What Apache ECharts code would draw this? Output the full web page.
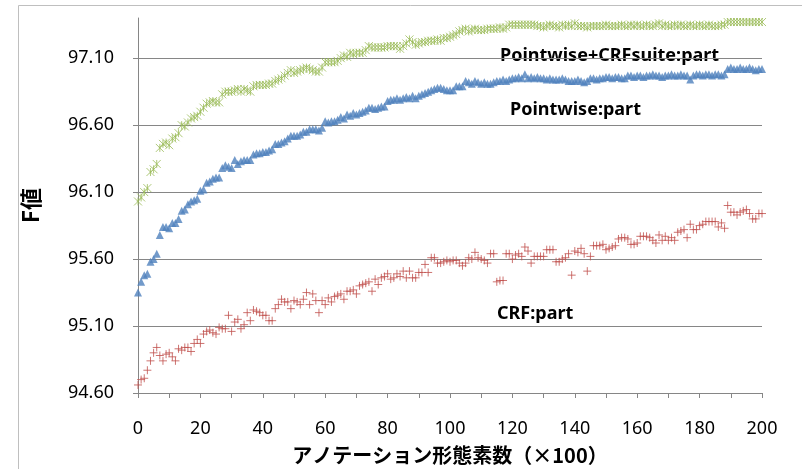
<!DOCTYPE html>
<html>
<head>
<meta charset="utf-8">
<script src="https://cdn.jsdelivr.net/npm/echarts@6/dist/echarts.min.js"></script>
<style>html,body{margin:0;padding:0;background:#fff}#c{width:802px;height:469px}</style>
</head>
<body>
<div id="c"></div>
<script>
// x positions: annotated morphemes (x100), one point per step 0..200
const xSteps = Array.from({length: 201}, (_, i) => i);
const yTicks = ['94.60','95.10','95.60','96.10','96.60','97.10'];
const xTickLabels = ['0','20','40','60','80','100','120','140','160','180','200'];
const seriesNames = ['Pointwise+CRFsuite:part','Pointwise:part','CRF:part'];

const crfPart = [
94.66,94.70,94.71,94.77,94.84,94.90,94.94,94.88,94.84,94.89,
94.90,94.87,94.84,94.93,94.92,94.94,94.94,94.91,94.97,95.00,
94.97,95.04,95.06,95.07,95.05,95.04,95.09,95.08,95.08,95.18,
95.06,95.13,95.15,95.08,95.11,95.20,95.14,95.22,95.21,95.20,
95.18,95.18,95.14,95.14,95.23,95.26,95.30,95.28,95.28,95.23,
95.29,95.28,95.26,95.30,95.35,95.26,95.34,95.29,95.20,95.29,
95.26,95.31,95.28,95.32,95.33,95.34,95.30,95.36,95.36,95.37,
95.34,95.40,95.41,95.42,95.43,95.36,95.45,95.41,95.46,95.47,
95.49,95.45,95.46,95.49,95.47,95.51,95.46,95.51,95.46,95.46,
95.50,95.50,95.56,95.50,95.61,95.61,95.57,95.57,95.58,95.59,
95.58,95.59,95.59,95.57,95.55,95.57,95.61,95.60,95.65,95.61,
95.60,95.59,95.57,95.64,95.64,95.43,95.44,95.44,95.64,95.64,
95.60,95.63,95.64,95.62,95.69,95.66,95.57,95.62,95.62,95.62,
95.62,95.67,95.67,95.67,95.58,95.58,95.60,95.61,95.64,95.48,
95.66,95.65,95.68,95.64,95.51,95.62,95.70,95.70,95.70,95.71,
95.67,95.68,95.69,95.70,95.75,95.76,95.76,95.75,95.71,95.71,
95.72,95.77,95.77,95.77,95.76,95.74,95.72,95.78,95.74,95.77,
95.74,95.76,95.74,95.80,95.81,95.82,95.76,95.86,95.82,95.82,
95.85,95.86,95.88,95.88,95.88,95.88,95.84,95.87,95.83,96.00,
95.95,95.95,95.93,95.95,95.96,95.97,95.94,95.90,95.90,95.94,
95.94];

const pointwisePart = [
95.35,95.43,95.48,95.49,95.58,95.60,95.64,95.78,95.84,95.84,
95.83,95.87,95.87,95.90,95.96,95.97,96.01,96.03,96.04,96.05,
96.11,96.12,96.17,96.18,96.20,96.21,96.21,96.28,96.30,96.29,
96.28,96.34,96.31,96.33,96.34,96.34,96.34,96.38,96.39,96.39,
96.40,96.40,96.41,96.42,96.46,96.46,96.47,96.48,96.50,96.52,
96.52,96.52,96.53,96.55,96.55,96.57,96.57,96.57,96.56,96.58,
96.63,96.62,96.63,96.63,96.64,96.66,96.65,96.68,96.67,96.69,
96.68,96.69,96.70,96.71,96.73,96.73,96.72,96.73,96.74,96.74,
96.78,96.79,96.79,96.80,96.79,96.80,96.81,96.80,96.82,96.80,
96.82,96.83,96.84,96.85,96.86,96.87,96.88,96.88,96.87,96.86,
96.86,96.86,96.89,96.89,96.89,96.93,96.92,96.91,96.93,96.92,
96.91,96.92,96.91,96.91,96.92,96.93,96.93,96.94,96.93,96.94,
96.95,96.95,96.96,96.95,96.98,96.95,96.96,96.95,96.96,96.95,
96.95,96.94,96.95,96.94,96.94,96.94,96.95,96.94,96.93,96.93,
96.93,96.94,96.93,96.92,96.93,96.95,96.95,96.94,96.95,96.95,
96.96,96.96,96.95,96.96,96.96,96.95,96.95,96.97,96.97,96.96,
96.97,96.97,96.96,96.97,96.97,96.98,96.97,96.97,96.96,96.97,
96.97,96.98,96.97,96.97,96.98,96.97,96.97,96.94,96.97,96.98,
96.98,96.97,96.98,96.98,96.97,96.98,96.98,96.97,96.98,97.02,
97.03,97.02,97.02,97.03,97.02,97.02,97.03,97.02,97.01,97.02,
97.02];

const pointwiseCrfsuitePart = [
96.03,96.06,96.10,96.13,96.25,96.27,96.31,96.43,96.46,96.47,
96.45,96.50,96.51,96.54,96.60,96.59,96.62,96.65,96.66,96.67,
96.70,96.73,96.76,96.77,96.78,96.77,96.77,96.83,96.85,96.85,
96.85,96.86,96.87,96.85,96.87,96.86,96.85,96.89,96.90,96.90,
96.90,96.90,96.91,96.91,96.93,96.94,96.95,96.97,96.99,97.01,
96.99,97.00,97.01,97.02,97.03,97.02,97.01,97.00,97.00,97.03,
97.07,97.07,97.07,97.07,97.08,97.10,97.12,97.11,97.14,97.13,
97.14,97.14,97.14,97.16,97.19,97.18,97.18,97.18,97.18,97.18,
97.19,97.19,97.19,97.19,97.17,97.19,97.21,97.24,97.22,97.20,
97.21,97.22,97.22,97.23,97.23,97.23,97.24,97.23,97.25,97.25,
97.26,97.27,97.28,97.30,97.31,97.32,97.30,97.31,97.32,97.31,
97.31,97.31,97.32,97.32,97.32,97.32,97.33,97.32,97.33,97.35,
97.35,97.35,97.35,97.35,97.35,97.35,97.35,97.35,97.34,97.34,
97.33,97.34,97.35,97.34,97.34,97.33,97.35,97.34,97.35,97.34,
97.36,97.34,97.34,97.34,97.33,97.34,97.34,97.34,97.34,97.34,
97.35,97.34,97.34,97.34,97.34,97.35,97.34,97.34,97.35,97.34,
97.35,97.34,97.34,97.35,97.34,97.34,97.35,97.36,97.34,97.35,
97.34,97.34,97.35,97.34,97.35,97.34,97.34,97.35,97.34,97.34,
97.35,97.34,97.34,97.35,97.34,97.34,97.34,97.35,97.35,97.37,
97.37,97.37,97.37,97.37,97.37,97.37,97.37,97.37,97.37,97.37,
97.37];

const pairs = arr => arr.map((v, i) => [xSteps[i], v]);
const chart = echarts.init(document.getElementById('c'), null, {renderer: 'canvas'});
const axisGray = '#868686';
const labelFont = '"Noto Sans", "Liberation Sans", sans-serif';
const annFont = 'bold 18px "Noto Sans", sans-serif';

chart.setOption({
  animation: false,
  backgroundColor: '#fff',
  grid: {left: 138, right: 40, top: 18, bottom: 76, containLabel: false, outerBoundsMode: 'none'},
  xAxis: {
    type: 'value', min: 0, max: 200, interval: 10,
    name: 'アノテーション形態素数（×100）', nameLocation: 'middle', nameGap: 52,
    nameTextStyle: {fontFamily: '"Noto Sans CJK JP", sans-serif', fontWeight: 'bold', fontSize: 20, color: '#000'},
    axisLine: {show: true, lineStyle: {color: axisGray, width: 1}},
    axisTick: {show: true, inside: false, length: 5, lineStyle: {color: axisGray}},
    splitLine: {show: false},
    axisLabel: {
      margin: 27, fontSize: 18, color: '#000', fontFamily: labelFont,
      formatter: v => { const s = String(Math.round(v)); return xTickLabels.indexOf(s) >= 0 ? s : ''; }
    }
  },
  yAxis: {
    type: 'value', min: 94.6, max: 97.4, interval: 0.5,
    name: 'F値', nameLocation: 'middle', nameGap: 96, nameRotate: 90,
    nameTextStyle: {fontFamily: '"Noto Sans CJK JP", sans-serif', fontWeight: 'bold', fontSize: 22, color: '#000'},
    axisLine: {show: true, onZero: false, lineStyle: {color: axisGray, width: 1}},
    axisTick: {show: true, inside: false, length: 5, lineStyle: {color: axisGray}},
    splitLine: {show: true, lineStyle: {color: [axisGray, axisGray, axisGray, axisGray, axisGray, axisGray, 'rgba(0,0,0,0)'], width: 1}},
    axisLabel: {
      margin: 24, fontSize: 18, color: '#000', fontFamily: labelFont, showMaxLabel: false,
      formatter: v => { const s = v.toFixed(2); return yTicks.indexOf(s) >= 0 ? s : ''; }
    }
  },
  series: [
    {
      name: seriesNames[2], type: 'scatter', data: pairs(crfPart),
      symbol: 'path://M5,0L5,10M0,5L10,5', symbolSize: 8,
      itemStyle: {color: 'rgba(0,0,0,0)', borderColor: '#C0504D', borderWidth: 1}
    },
    {
      name: seriesNames[1], type: 'scatter', data: pairs(pointwisePart),
      symbol: 'triangle', symbolSize: 8,
      itemStyle: {color: '#4F81BD'}
    },
    {
      name: seriesNames[0], type: 'scatter', data: pairs(pointwiseCrfsuitePart),
      symbol: 'path://M0,0L10,10M10,0L0,10M5,0L5,10', symbolSize: 8,
      itemStyle: {color: 'rgba(0,0,0,0)', borderColor: '#9BBB59', borderWidth: 1}
    }
  ],
  graphic: [
    {type: 'rect', shape: {x: 18.5, y: 5.5, width: 800, height: 480}, style: {fill: 'none', stroke: '#BFBFBF', lineWidth: 1}, silent: true, z: -1},
    {type: 'text', left: 500, top: 47, style: {text: seriesNames[0], font: annFont, fill: '#000'}},
    {type: 'text', left: 510, top: 101, style: {text: seriesNames[1], font: annFont, fill: '#000'}},
    {type: 'text', left: 497, top: 305, style: {text: seriesNames[2], font: annFont, fill: '#000'}}
  ]
});
</script>
</body>
</html>
